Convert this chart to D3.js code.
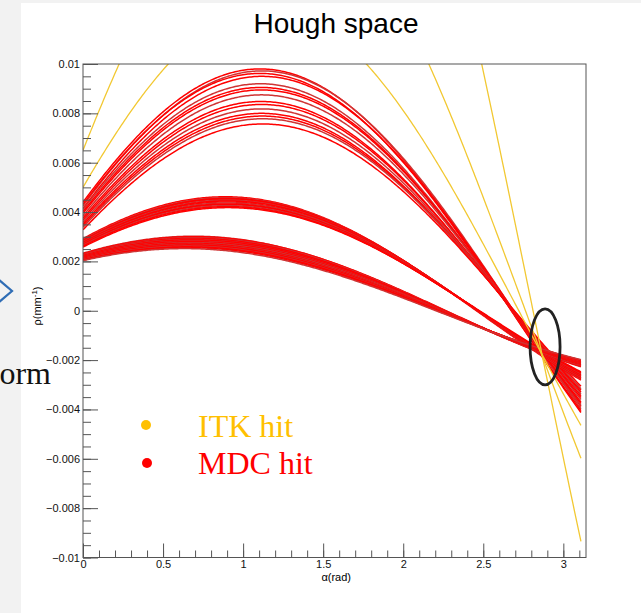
<!DOCTYPE html>
<meta charset="utf-8">
<script src="https://d3js.org/d3.v7.min.js"></script>
<style>
body { margin: 0; background: #f2f2f2; }
svg { display: block; }
</style>
<div id="hough"></div>
<script>
// hits as conformal coordinates (u, v); each hit draws rho = u*cos(a) + v*sin(a)
// u is read where a curve meets the left edge, v from its peak height
var itkU = [0.0065, 0.0050, 0.0103];
var itkV = [0.01637, 0.01121, 0.0300];

var mdcU = [
  // outer group
  0.00440, 0.00425, 0.00432, 0.00415, 0.00410, 0.00402, 0.00395, 0.00385,
  0.00376, 0.00368, 0.00360, 0.00352, 0.00345, 0.00338, 0.00328,
  // middle group
  0.00292, 0.00288, 0.00285, 0.00283, 0.00280, 0.00277, 0.00275, 0.00272,
  0.00270, 0.00268, 0.00265, 0.00262, 0.00258,
  // inner group
  0.00233, 0.00230, 0.00231, 0.00228, 0.00227, 0.00225, 0.00226, 0.00223,
  0.00222, 0.00220, 0.00219, 0.00218, 0.00216, 0.00215, 0.00214, 0.00212,
  0.00211, 0.00209, 0.00208, 0.00206, 0.00205, 0.00203
];
var mdcV = [
  0.008757, 0.008742, 0.008595, 0.008546, 0.008236, 0.008108, 0.008031, 0.007857,
  0.007601, 0.007507, 0.007345, 0.007184, 0.007096, 0.007008, 0.006822,
  0.003580, 0.003561, 0.003547, 0.003524, 0.003497, 0.003483, 0.003447, 0.003420,
  0.003385, 0.003363, 0.003335, 0.003308, 0.003289,
  0.001921, 0.001926, 0.001883, 0.001888, 0.001853, 0.001845, 0.001801, 0.001807,
  0.001787, 0.001764, 0.001745, 0.001725, 0.001718, 0.001682, 0.001663, 0.001656,
  0.001636, 0.001613, 0.001593, 0.001570, 0.001533, 0.001493
];

var xTicks = [0, 0.5, 1, 1.5, 2, 2.5, 3];
var xLabels = ["0", "0.5", "1", "1.5", "2", "2.5", "3"];
var yTicks = [-0.01, -0.008, -0.006, -0.004, -0.002, 0, 0.002, 0.004, 0.006, 0.008, 0.01];
var yLabels = ["\u22120.01", "\u22120.008", "\u22120.006", "\u22120.004", "\u22120.002", "0",
               "0.002", "0.004", "0.006", "0.008", "0.01"];

var alphaMax = 3.11;              // curves stop a little short of pi
var crossing = [2.886, -0.00146]; // circled common point

var W = 641, H = 613;
var frame = {left: 83, right: 586, top: 64, bottom: 557.5};

var svg = d3.select("#hough").append("svg")
  .attr("width", W).attr("height", H);

// white picture on the grey slide
svg.append("rect").attr("x", 21).attr("y", 3).attr("width", W - 21).attr("height", H - 3)
  .attr("fill", "#fff");

var x = d3.scaleLinear().domain([0, Math.PI]).range([frame.left, frame.right]);
var y = d3.scaleLinear().domain([-0.01, 0.01]).range([frame.bottom, frame.top]);

svg.append("text")
  .attr("x", 336).attr("y", 33)
  .attr("text-anchor", "middle")
  .style("font-family", "Liberation Sans, Arial, sans-serif")
  .style("font-size", "28px")
  .text("Hough space");

svg.append("clipPath").attr("id", "frameClip")
  .append("rect").attr("x", frame.left).attr("y", frame.top)
  .attr("width", frame.right - frame.left).attr("height", frame.bottom - frame.top);

var alphas = d3.range(0, alphaMax + 0.0001, 0.01);
var line = d3.line()
  .x(function(d) { return x(d[0]); })
  .y(function(d) { return y(d[1]); });

function curve(u, v) {
  return alphas.map(function(a) { return [a, u * Math.cos(a) + v * Math.sin(a)]; });
}

var plot = svg.append("g").attr("clip-path", "url(#frameClip)");

plot.selectAll(".mdc")
  .data(d3.range(mdcU.length))
  .enter().append("path")
    .attr("class", "mdc")
    .attr("d", function(i) { return line(curve(mdcU[i], mdcV[i])); })
    .attr("fill", "none")
    .attr("stroke", function(i) { return i % 3 == 1 ? "#cf3434" : "#ff0000"; })
    .attr("stroke-width", 1.5);

plot.selectAll(".itk")
  .data(d3.range(itkU.length))
  .enter().append("path")
    .attr("class", "itk")
    .attr("d", function(i) { return line(curve(itkU[i], itkV[i])); })
    .attr("fill", "none")
    .attr("stroke", "#f2c832")
    .attr("stroke-width", 1.3);

// axes, ROOT style: ticks pointing into the frame
var tickFont = "Liberation Sans, Arial, sans-serif";

svg.append("g")
  .attr("transform", "translate(0," + frame.bottom + ")")
  .call(d3.axisBottom(x).tickValues(d3.range(0, 3.15, 0.1)).tickSize(-7).tickFormat(""))
  .call(function(g) { g.select(".domain").remove(); });

svg.append("g")
  .attr("transform", "translate(0," + frame.bottom + ")")
  .call(d3.axisBottom(x).tickValues(xTicks).tickSize(-14).tickPadding(3)
    .tickFormat(function(d, i) { return xLabels[i]; }))
  .call(function(g) { g.select(".domain").remove(); });

svg.append("g")
  .attr("transform", "translate(" + frame.left + ",0)")
  .call(d3.axisLeft(y).tickValues(d3.range(-0.01, 0.01001, 0.0005)).tickSize(-8).tickFormat(""))
  .call(function(g) { g.select(".domain").remove(); });

svg.append("g")
  .attr("transform", "translate(" + frame.left + ",0)")
  .call(d3.axisLeft(y).tickValues(yTicks).tickSize(-15).tickPadding(3)
    .tickFormat(function(d, i) { return yLabels[i]; }))
  .call(function(g) { g.select(".domain").remove(); });

svg.selectAll(".tick line").attr("stroke", "#555");
svg.selectAll(".tick text")
  .style("font-family", tickFont).style("font-size", "11px").attr("fill", "#111");

svg.append("rect")
  .attr("x", frame.left).attr("y", frame.top)
  .attr("width", frame.right - frame.left).attr("height", frame.bottom - frame.top)
  .attr("fill", "none").attr("stroke", "#555");

svg.append("text")
  .attr("x", 351).attr("y", 581)
  .attr("text-anchor", "end")
  .style("font-family", tickFont).style("font-size", "11px")
  .text("\u03b1(rad)");

var yt = svg.append("text")
  .attr("transform", "translate(41,306) rotate(-90)")
  .attr("text-anchor", "middle")
  .style("font-family", tickFont).style("font-size", "11px");
yt.append("tspan").text("\u03c1(mm");
yt.append("tspan").attr("dy", -4).style("font-size", "8px").text("-1");
yt.append("tspan").attr("dy", 4).text(")");

// circled crossing
svg.append("ellipse")
  .attr("cx", x(crossing[0])).attr("cy", y(crossing[1]))
  .attr("rx", 15).attr("ry", 38)
  .attr("fill", "none").attr("stroke", "#222").attr("stroke-width", 2.8);

// legend
svg.append("circle").attr("cx", 146).attr("cy", 425).attr("r", 5).attr("fill", "#ffc000");
svg.append("circle").attr("cx", 147).attr("cy", 463).attr("r", 5).attr("fill", "#ff0000");
svg.append("text").attr("x", 198).attr("y", 437)
  .style("font-family", "Liberation Serif, Times New Roman, serif").style("font-size", "32px")
  .attr("fill", "#ffc000").text("ITK hit");
svg.append("text").attr("x", 198).attr("y", 474)
  .style("font-family", "Liberation Serif, Times New Roman, serif").style("font-size", "32px")
  .attr("fill", "#ff0000").text("MDC hit");

// pieces of the slide around the picture
svg.append("path")
  .attr("d", "M-2,279 L12,291 L-2,303")
  .attr("fill", "none").attr("stroke", "#2f6db5").attr("stroke-width", 2.2);
svg.append("text").attr("x", 51).attr("y", 384)
  .attr("text-anchor", "end")
  .style("font-family", "Liberation Serif, Times New Roman, serif").style("font-size", "32px")
  .attr("fill", "#111").text("orm");
</script>
